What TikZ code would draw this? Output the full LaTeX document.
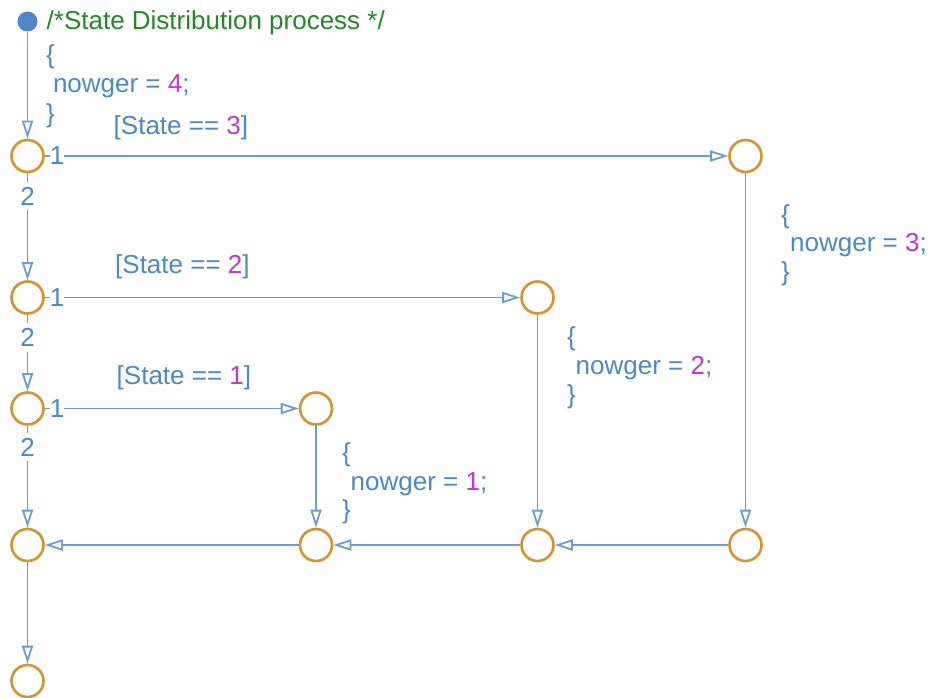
\documentclass[tikz,border=0pt]{standalone}
\usepackage{fontspec}
\setmainfont{Liberation Sans}
\usetikzlibrary{arrows.meta}
\definecolor{lblue}{HTML}{6A9EDA}
\definecolor{tblue}{HTML}{4A88CF}
\definecolor{mag}{HTML}{CC33CC}
\definecolor{cgreen}{HTML}{238A23}
\definecolor{jorange}{HTML}{D8932A}
\definecolor{dotblue}{HTML}{4F86C8}
\begin{document}
\begin{tikzpicture}[x=1pt,y=-1pt,
  junc/.style={circle,draw=jorange,line width=2.6pt,minimum size=32pt,inner sep=0pt,fill=white},
  startdot/.style={circle,fill=dotblue,minimum size=20pt,inner sep=0pt},
  tr/.style={draw=lblue,line width=1.8pt,-{Triangle[open,length=18pt,width=11pt]}},
  txt/.style={anchor=base west,inner sep=0pt,text=tblue,font=\fontsize{26}{30}\selectfont},
  lab/.style={fill=white,inner xsep=0pt,inner ysep=5pt,text=tblue,font=\fontsize{26}{30}\selectfont}]
\fill[white] (0,0) rectangle (928,698);
\useasboundingbox (0,0) rectangle (928,698);

% junctions
\node[startdot] (S) at (27.5,21.5) {};
\node[junc] (J1) at (27.5,156) {};
\node[junc] (J2) at (27.5,297.5) {};
\node[junc] (J3) at (27.5,408.5) {};
\node[junc] (J4) at (27.5,545) {};
\node[junc] (J5) at (27.5,681) {};
\node[junc] (R3) at (745.5,156) {};
\node[junc] (R2) at (537.5,297.5) {};
\node[junc] (R1) at (316,408.5) {};
\node[junc] (B3) at (745.5,545) {};
\node[junc] (B2) at (537.5,545) {};
\node[junc] (B1) at (316,545) {};

% connectors
\draw[tr] (S) -- (J1);
\draw[tr] (J1) -- (R3);
\draw[tr] (J1) -- (J2);
\draw[tr] (J2) -- (R2);
\draw[tr] (J2) -- (J3);
\draw[tr] (J3) -- (R1);
\draw[tr] (J3) -- (J4);
\draw[tr] (R3) -- (B3);
\draw[tr] (R2) -- (B2);
\draw[tr] (R1) -- (B1);
\draw[tr] (B3) -- (B2);
\draw[tr] (B2) -- (B1);
\draw[tr] (B1) -- (J4);
\draw[tr] (J4) -- (J5);

% transition order labels
\node[lab] (o11) at (57,156) {1};
\node[lab] (o12) at (27.5,196) {2};
\node[lab] (o21) at (57,297.5) {1};
\node[lab] (o22) at (27.5,337.5) {2};
\node[lab] (o31) at (57,408.5) {1};
\node[lab] (o32) at (27.5,447) {2};

% comment and default action
\node[txt,text=cgreen] (cmt) at (46.5,30) {/*State Distribution process */};
\node[txt] (b4o) at (46,63.5) {\{};
\node[txt] (b4n) at (52.8,93) {nowger = \textcolor{mag}{4};};
\node[txt] (b4c) at (46,122.5) {\}};

% guards
\node[txt] (g3) at (113.5,134.5) {[State == \textcolor{mag}{3}]};
\node[txt] (g2) at (115,273) {[State == \textcolor{mag}{2}]};
\node[txt] (g1) at (116.5,384.5) {[State == \textcolor{mag}{1}]};

% actions
\node[txt] (b3o) at (781,223) {\{};
\node[txt] (b3n) at (790,251.5) {nowger = \textcolor{mag}{3};};
\node[txt] (b3c) at (781,280.5) {\}};

\node[txt] (b2o) at (567,345.5) {\{};
\node[txt] (b2n) at (575.5,374.5) {nowger = \textcolor{mag}{2};};
\node[txt] (b2c) at (567,403.5) {\}};

\node[txt] (b1o) at (342,461.5) {\{};
\node[txt] (b1n) at (350.5,490) {nowger = \textcolor{mag}{1};};
\node[txt] (b1c) at (342,518.5) {\}};
\end{tikzpicture}
\end{document}
